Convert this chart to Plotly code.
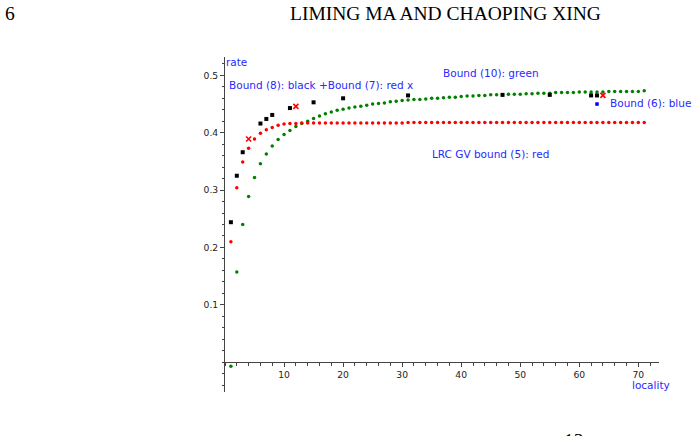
import plotly.graph_objects as go

# locality values and rates
loc = list(range(1, 72))

bound10_green = [
    -0.007, 0.157, 0.240, 0.289, 0.322, 0.346, 0.363, 0.377, 0.388, 0.397,
    0.404, 0.411, 0.416, 0.420, 0.425, 0.429, 0.433, 0.436, 0.439, 0.441,
    0.443, 0.445, 0.446, 0.448, 0.450, 0.451, 0.452, 0.454, 0.455, 0.456,
    0.457, 0.458, 0.458, 0.459, 0.460, 0.460, 0.461, 0.462, 0.462, 0.463,
    0.464, 0.464, 0.465, 0.465, 0.466, 0.466, 0.466, 0.467, 0.467, 0.467,
    0.468, 0.468, 0.469, 0.469, 0.469, 0.470, 0.470, 0.470, 0.470, 0.471,
    0.471, 0.471, 0.471, 0.471, 0.472, 0.472, 0.472, 0.472, 0.472, 0.472,
    0.473,
]

gv_red = [
    0.210, 0.304, 0.349, 0.373, 0.389, 0.399, 0.405, 0.409, 0.413, 0.415,
    0.416, 0.416, 0.417, 0.417, 0.417, 0.417, 0.417, 0.417, 0.417, 0.417,
    0.417, 0.417, 0.417, 0.417, 0.417, 0.417, 0.417, 0.417, 0.417, 0.417,
    0.418, 0.418, 0.418, 0.418, 0.418, 0.418, 0.418, 0.418, 0.418, 0.418,
    0.418, 0.418, 0.418, 0.418, 0.418, 0.418, 0.418, 0.418, 0.418, 0.418,
    0.418, 0.418, 0.418, 0.418, 0.418, 0.418, 0.418, 0.418, 0.418, 0.418,
    0.418, 0.418, 0.418, 0.418, 0.418, 0.418, 0.418, 0.418, 0.418, 0.418,
    0.418,
]

b8_loc = [1, 2, 3, 6, 7, 8, 11, 15, 20, 31, 47, 55, 62, 63]
b8_rate = [0.244, 0.325, 0.366, 0.416, 0.424, 0.431, 0.443, 0.453, 0.460,
           0.465, 0.466, 0.466, 0.465, 0.465]

b7_loc = [4, 12, 64]
b7_rate = [0.389, 0.446, 0.465]

b6_loc = [63]
b6_rate = [0.450]

W, H = 697, 436
L, R, T, B = 225, 38, 57, 44
XR = [0, 73.5]
YR = [-0.052, 0.532]

blue = "rgb(40,40,255)"

fig = go.Figure()
fig.add_trace(go.Scatter(x=loc, y=bound10_green, mode="markers",
                         marker=dict(color="rgb(0,128,0)", size=3.5)))
fig.add_trace(go.Scatter(x=loc, y=gv_red, mode="markers",
                         marker=dict(color="rgb(255,0,0)", size=3.5)))
fig.add_trace(go.Scatter(x=b8_loc, y=b8_rate, mode="markers",
                         marker=dict(color="black", size=4, symbol="square")))
fig.add_trace(go.Scatter(x=b7_loc, y=b7_rate, mode="markers",
                         marker=dict(color="rgb(255,0,0)", size=5, symbol="x-thin",
                                     line=dict(color="rgb(255,0,0)", width=1.6))))
fig.add_trace(go.Scatter(x=b6_loc, y=b6_rate, mode="markers",
                         marker=dict(color="rgb(0,0,255)", size=3.5, symbol="square")))


def paper(px, py):
    return (px - L) / (W - L - R), (H - B - py) / (H - T - B)


def label(text, px, py, size=10.5, color=blue, family="DejaVu Sans", anchor="left"):
    x, y = paper(px, py)
    fig.add_annotation(x=x, y=y, xref="paper", yref="paper", text=text,
                       showarrow=False, xanchor=anchor, yanchor="middle",
                       borderpad=0, font=dict(family=family, size=size, color=color))


label("rate", 225, 62)
label("Bound (8): black +Bound (7): red x", 228, 85)
label("Bound (10): green", 442, 73)
label("Bound (6): blue", 609, 103)
label("LRC GV bound (5): red", 431, 154)
label("locality", 631, 385)

# page header / footer (footer page number is cut by the bottom edge)
label("6", 4, 14, size=19.5, color="black", family="Liberation Serif")
label("LIMING MA AND CHAOPING XING", 445, 14, size=19.5, color="black",
      family="Liberation Serif", anchor="center")
x13, y13 = paper(574, 429)
fig.add_annotation(x=x13, y=y13, xref="paper", yref="paper", text="13",
                   showarrow=False, xanchor="center", yanchor="top", borderpad=0,
                   font=dict(family="Liberation Serif", size=19.5, color="black"))

x_zero = (0 - YR[0]) / (YR[1] - YR[0])
tickfont = dict(family="DejaVu Sans", size=9.2, color="#222")

fig.update_xaxes(range=XR, anchor="free", position=x_zero, showgrid=False,
                 zeroline=False, showline=True, linecolor="#444", linewidth=1,
                 tickvals=[10, 20, 30, 40, 50, 60, 70], ticks="outside",
                 ticklen=4, tickcolor="#444", tickfont=tickfont,
                 minor=dict(dtick=2, tick0=0, ticks="outside", ticklen=2.5,
                            tickcolor="#444"))
fig.update_yaxes(range=YR, showgrid=False, zeroline=False, showline=True,
                 linecolor="#444", linewidth=1,
                 tickvals=[0.1, 0.2, 0.3, 0.4, 0.5], ticktext=["0.1", "0.2", "0.3", "0.4", "0.5"],
                 ticks="outside", ticklen=4, tickcolor="#444", tickfont=tickfont,
                 minor=dict(dtick=0.02, tick0=0, ticks="outside", ticklen=2.5,
                            tickcolor="#444"))

fig.update_layout(width=W, height=H, margin=dict(l=L, r=R, t=T, b=B),
                  showlegend=False, plot_bgcolor="white", paper_bgcolor="white")

# the page body has a default 8px margin; drop it so the figure sits at 0,0
fig.write_html("out.html", config={"displayModeBar": False},
               post_script="document.body.style.margin='0';document.body.style.overflow='hidden';")
